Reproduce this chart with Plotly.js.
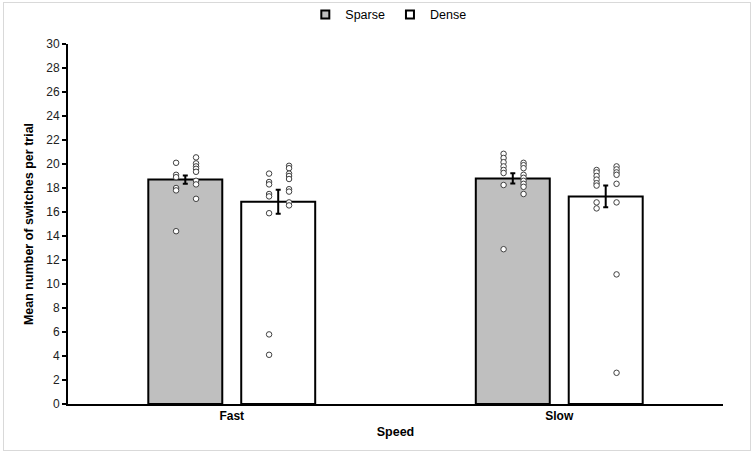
<!DOCTYPE html>
<html>
<head>
<meta charset="utf-8">
<script src="https://cdn.plot.ly/plotly-3.0.1.min.js"></script>
<style>
  html, body { margin: 0; padding: 0; background: #fff; }
  #wrap { position: relative; width: 754px; height: 453px; }
  #chart { width: 754px; height: 453px; }
  #frame { position: absolute; left: 3px; top: 2px; width: 746px; height: 447px;
           border: 1px solid #d9d9d9; pointer-events: none; }
</style>
</head>
<body>
<div id="wrap"><div id="chart"></div><div id="frame"></div></div>
<script>
// ---- data ----
const speeds = ["Fast", "Slow"];
const groups = ["Sparse", "Dense"];
const sparseMeans = [18.7, 18.8];
const sparseSE = [0.35, 0.42];
const denseMeans = [16.85, 17.3];
const denseSE = [1.0, 0.9];

// individual participant values (two jittered columns per bar)
const sparseFastLeft  = [20.1, 19.1, 18.9, 18.0, 17.8, 14.4];
const sparseFastRight = [20.55, 20.05, 19.8, 19.6, 19.35, 18.6, 18.3, 17.1];
const denseFastLeft   = [19.2, 18.5, 18.3, 17.5, 17.3, 15.9, 5.8, 4.1];
const denseFastRight  = [19.85, 19.65, 19.2, 19.0, 18.75, 17.9, 17.7, 16.8, 16.55];
const sparseSlowLeft  = [20.85, 20.5, 20.15, 19.8, 19.5, 19.25, 18.25, 12.9];
const sparseSlowRight = [20.1, 19.9, 19.65, 19.1, 18.85, 18.6, 18.35, 18.1, 17.5];
const denseSlowLeft   = [19.5, 19.3, 19.0, 18.7, 18.4, 18.2, 16.8, 16.3];
const denseSlowRight  = [19.8, 19.55, 19.3, 19.1, 18.35, 16.8, 10.8, 2.6];

// ---- layout constants ----
const barOffset = 0.142;
const colL = -0.028, colR = 0.033;
const xIdx = speeds.map((s, i) => i);
const fills = ["#bfbfbf", "#ffffff"];

const barLine = { color: "#000000", width: 2 };
const errStyle = (arr) => ({ type: "data", array: arr, visible: true, color: "#000000", thickness: 2, width: 2.5 });

const traces = [
  { type: "bar", name: groups[0], x: xIdx, y: sparseMeans, offsetgroup: "s", showlegend: false,
    marker: { color: fills[0], line: barLine }, error_y: errStyle(sparseSE), hoverinfo: "y" },
  { type: "bar", name: groups[1], x: xIdx, y: denseMeans, offsetgroup: "d", showlegend: false,
    marker: { color: fills[1], line: barLine }, error_y: errStyle(denseSE), hoverinfo: "y" }
];

const pointSets = [
  [sparseFastLeft, 0, -barOffset + colL], [sparseFastRight, 0, -barOffset + colR],
  [denseFastLeft, 0, barOffset + colL],   [denseFastRight, 0, barOffset + colR],
  [sparseSlowLeft, 1, -barOffset + colL], [sparseSlowRight, 1, -barOffset + colR],
  [denseSlowLeft, 1, barOffset + colL],   [denseSlowRight, 1, barOffset + colR]
];
pointSets.forEach(([vals, ci, off]) => {
  traces.push({
    type: "scatter", mode: "markers", showlegend: false, hoverinfo: "y",
    x: vals.map(() => ci + off), y: vals,
    marker: { size: 5.5, color: "#ffffff", line: { color: "#404040", width: 1 } }
  });
});

// legend entries (small squares like the original)
groups.forEach((g, i) => {
  traces.push({
    type: "scatter", mode: "markers", name: g, x: [null], y: [null], showlegend: true,
    marker: { symbol: "square", size: 8, color: fills[i], line: { color: "#000", width: 2 } }
  });
});

const font = { family: "Liberation Sans, Arial, sans-serif", color: "#000000", size: 12 };

const layout = {
  width: 754, height: 453,
  margin: { l: 68, r: 30.5, t: 44, b: 49, pad: 0 },
  paper_bgcolor: "#ffffff", plot_bgcolor: "#ffffff",
  font: font,
  barmode: "group", bargap: 0.4325, bargroupgap: 0.204,
  showlegend: true,
  legend: { orientation: "h", xref: "container", yref: "container",
            x: 0.515, xanchor: "center", y: 0.967, yanchor: "middle",
            font: { family: font.family, size: 12.5, color: "#000" }, traceorder: "normal",
            itemwidth: 30, bgcolor: "rgba(0,0,0,0)" },
  xaxis: {
    range: [-0.5, 1.5], tickvals: xIdx, ticktext: speeds.map(s => "<b>" + s + "</b>"),
    showgrid: false, zeroline: false, showline: true, linecolor: "#000", linewidth: 2,
    ticks: "", tickfont: { family: font.family, size: 12, color: "#000" },
    title: { text: "<b>Speed</b>", font: { family: font.family, size: 12.5, color: "#000" }, standoff: 5 }
  },
  yaxis: {
    range: [0, 30], dtick: 2, tick0: 0,
    showgrid: false, zeroline: false, showline: true, linecolor: "#000", linewidth: 2,
    ticks: "outside", ticklen: 4, tickwidth: 1.5, tickcolor: "#000",
    tickfont: { family: font.family, size: 12, color: "#222" },
    title: { text: "<b>Mean number of switches per trial</b>", font: { family: font.family, size: 12.5, color: "#000" }, standoff: 10 }
  }
};

Plotly.newPlot("chart", traces, layout, { displayModeBar: false, staticPlot: true });
</script>
</body>
</html>
